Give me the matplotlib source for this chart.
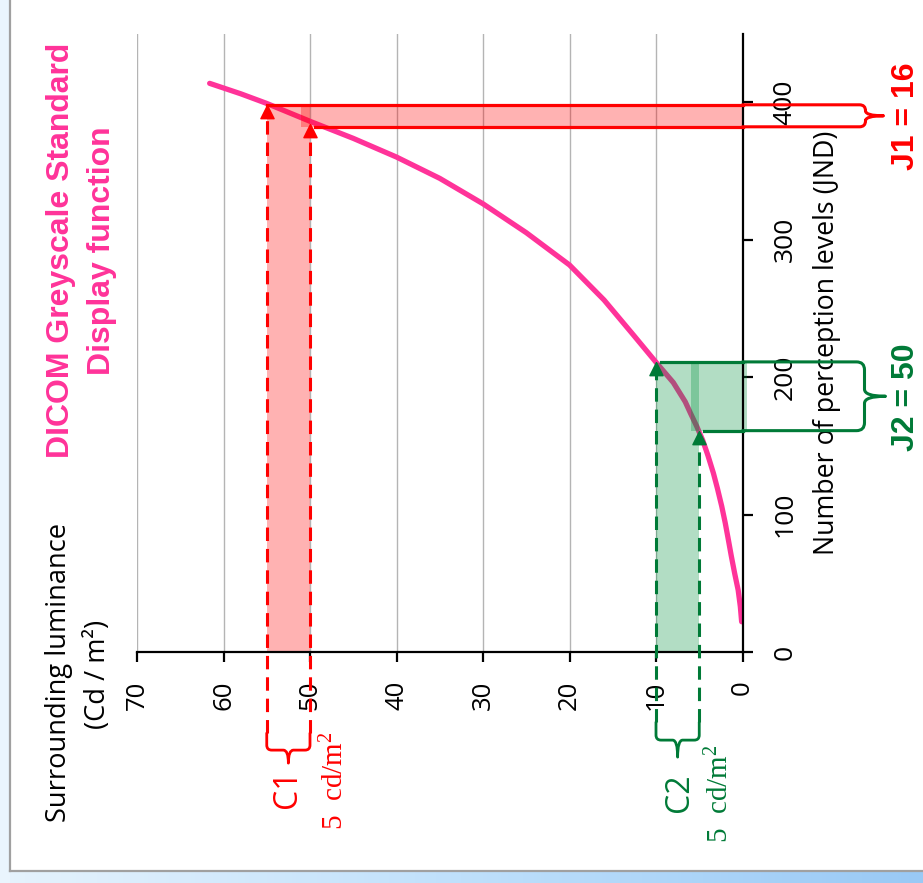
import matplotlib
matplotlib.use("Agg")
import matplotlib.pyplot as plt
import numpy as np
from matplotlib.path import Path
from matplotlib.patches import PathPatch, Rectangle
from matplotlib.transforms import IdentityTransform
from matplotlib.lines import Line2D
from matplotlib.colors import LinearSegmentedColormap

plt.rcParams["mathtext.fontset"] = "custom"
plt.rcParams["mathtext.rm"] = "Liberation Serif"
plt.rcParams["mathtext.it"] = "Liberation Serif:italic"
plt.rcParams["mathtext.bf"] = "Liberation Serif:bold"

# ---------------- data ----------------
luminance = [0.1, 0.25, 0.5, 0.9, 1.3, 1.63, 2.0, 2.4, 2.9, 3.36, 4.0, 4.6, 5.28, 6.0,
             6.62, 8.0, 9.9, 12.6, 16, 20, 25, 30, 35, 40, 45, 50, 55, 58, 61.6]
jnd = [22, 33, 45, 57, 70, 81.5, 94, 106, 119, 130, 143, 154, 164, 173.5,
       182, 196, 210, 230.5, 256, 281.5, 305, 326, 344.5, 360, 373.6, 386, 399,
       406, 413.6]

c1_lum = [50, 55]      # cd/m2
j1_jnd = [382, 398]    # JND
c2_lum = [5, 10]
j2_jnd = [161, 211]

lum_ticks = [0, 10, 20, 30, 40, 50, 60, 70]
jnd_ticks = [0, 100, 200, 300, 400]

# ---------------- style ----------------
W, H = 923, 883
PINK = "#FF3399"
RED = "#FF0000"
GREEN = "#007A37"
GREEN_FILL = "#00913E"
SANS = ["Open Sans", "DejaVu Sans"]
BOLD = ["Liberation Sans", "DejaVu Sans"]
SERIF = ["Liberation Serif", "DejaVu Serif"]

fig = plt.figure(figsize=(W / 100, H / 100), dpi=100)
fig.patch.set_facecolor("white")

def fx(px):
    return px / W

def fy(py):
    return 1 - py / H

# background frame
fig.patches.append(Rectangle((0, 0), fx(10), 1, transform=fig.transFigure,
                             facecolor="#EAF5FD", edgecolor="none", zorder=0))
gax = fig.add_axes([0, 0, 1, 11 / H])
grad = np.linspace(0, 1, 256).reshape(1, -1)
cmap = LinearSegmentedColormap.from_list("g", ["#E6F3FD", "#BFE0FB", "#99C9F5"])
gax.imshow(grad, aspect="auto", cmap=cmap, extent=[0, 1, 0, 1])
gax.set_axis_off()
fig.add_artist(Line2D([fx(10), fx(10)], [fy(871), 1], transform=fig.transFigure,
                      color="#A0A0A0", lw=1.6))
fig.add_artist(Line2D([fx(10), 1], [fy(871), fy(871)], transform=fig.transFigure,
                      color="#A0A0A0", lw=1.6))

# main axes (rotated chart: luminance horizontal, increasing leftwards)
x0, x1 = 137, 742.5
y0, y1 = 652, 34
ax = fig.add_axes([fx(x0), fy(y0), fx(x1) - fx(x0), fy(y1) - fy(y0)])
ax.patch.set_visible(False)
ax.set_xlim(70, 0)
ax.set_ylim(0, 449.5)

for s in ["left", "top"]:
    ax.spines[s].set_visible(False)
for s in ["bottom", "right"]:
    ax.spines[s].set_linewidth(1.6)
    ax.spines[s].set_color("black")
    ax.spines[s].set_zorder(4)

ax.set_xticks(lum_ticks)
ax.set_xticklabels([str(v) for v in lum_ticks])
ax.yaxis.tick_right()
ax.set_yticks(jnd_ticks)
ax.set_yticklabels([str(v) for v in jnd_ticks])
ax.tick_params(axis="x", direction="out", length=7.5, width=1.6, pad=13,
               labelsize=18.5, labelrotation=90)
ax.tick_params(axis="y", direction="out", length=7.5, width=1.6, pad=14,
               labelsize=19, labelrotation=90)
for t in ax.get_xticklabels() + ax.get_yticklabels():
    t.set_fontfamily(SANS)
for t in ax.get_yticklabels():
    t.set_va("center")
    t.set_ha("left")
ax.grid(axis="x", color="#B4B4B4", lw=1.0, zorder=0)
ax.grid(axis="y", visible=False)
ax.set_axisbelow(True)

# curve
ax.plot(luminance, jnd, color=PINK, lw=3.8, solid_capstyle="round",
        solid_joinstyle="round", zorder=2)

# fills
ax.add_patch(Rectangle((c1_lum[0], 0), c1_lum[1] - c1_lum[0], j1_jnd[1],
                       facecolor=RED, alpha=0.3, edgecolor="none", zorder=3))
ax.add_patch(Rectangle((0, j1_jnd[0]), c1_lum[0] + 1, j1_jnd[1] - j1_jnd[0],
                       facecolor=RED, alpha=0.3, edgecolor="none", zorder=3))
ax.add_patch(Rectangle((c2_lum[0], 0), c2_lum[1] - c2_lum[0], j2_jnd[1] - 1,
                       facecolor=GREEN_FILL, alpha=0.3, edgecolor="none", zorder=3))
ax.add_patch(Rectangle((-0.5, j2_jnd[0]), c2_lum[0] + 1.5, j2_jnd[1] - j2_jnd[0],
                       facecolor=GREEN_FILL, alpha=0.3, edgecolor="none", zorder=3,
                       clip_on=False))

# arrows (triangle with its tip at the data point)
tri = [(0, 0), (-0.5, -1), (0.5, -1), (0, 0)]
ARROW_H = 13 / 1.375  # arrow height in JND units

def dashed_arrow(lum, j, j_bottom, color):
    ax.plot([lum, lum], [j_bottom, j - ARROW_H], color=color, lw=2.2,
            dashes=(4.4, 2.6), clip_on=False, zorder=6)
    ax.plot([lum], [j], marker=tri, ms=19, color=color, mec=color,
            clip_on=False, zorder=6, lw=0)

dashed_arrow(c1_lum[1], j1_jnd[1], -59, RED)
dashed_arrow(c1_lum[0], j1_jnd[0] + 2, -59, RED)
dashed_arrow(c2_lum[1], j2_jnd[1], -51, GREEN)
dashed_arrow(c2_lum[0], j2_jnd[0], -51, GREEN)

# solid horizontal lines towards the JND braces
ax.plot([c1_lum[1], 0], [j1_jnd[1]] * 2, color=RED, lw=2.3, zorder=6, clip_on=False)
ax.plot([c1_lum[0] - 0.6, 0], [j1_jnd[0]] * 2, color=RED, lw=2.3, zorder=6, clip_on=False)
ax.plot([c2_lum[1] - 0.6, 0], [j2_jnd[1]] * 2, color=GREEN, lw=2.3, zorder=6, clip_on=False)
ax.plot([c2_lum[0] - 0.6, 0], [j2_jnd[0]] * 2, color=GREEN, lw=2.3, zorder=6, clip_on=False)


def brace(A, B, n, d1, d2, r, r2, color, lw=2.0):
    A = np.asarray(A, float)
    B = np.asarray(B, float)
    n = np.asarray(n, float)
    t = (B - A) / np.linalg.norm(B - A)
    M = (A + B) / 2
    verts = [A,
             A + n * (d1 - r),
             A + n * d1, A + n * d1 + t * r,
             M - t * r2 + n * d1,
             M + n * d1, M + n * d2,
             M + n * d1, M + t * r2 + n * d1,
             B + n * d1 - t * r,
             B + n * d1, B + n * (d1 - r),
             B]
    codes = [Path.MOVETO, Path.LINETO, Path.CURVE3, Path.CURVE3, Path.LINETO,
             Path.CURVE3, Path.CURVE3, Path.CURVE3, Path.CURVE3, Path.LINETO,
             Path.CURVE3, Path.CURVE3, Path.LINETO]
    p = PathPatch(Path(verts, codes), transform=IdentityTransform(),
                  facecolor="none", edgecolor=color, lw=lw, zorder=7,
                  capstyle="round", joinstyle="round")
    fig.add_artist(p)

td = ax.transData
brace(td.transform((0, j1_jnd[1])), td.transform((0, j1_jnd[0])), (1, 0),
      123, 141, 6, 5, RED, 2.2)
brace(td.transform((0, j2_jnd[1])), td.transform((0, j2_jnd[0])), (1, 0),
      122, 143, 8, 7, GREEN, 2.2)
brace(td.transform((c1_lum[1], -59)), td.transform((c1_lum[0], -59)), (0, -1),
      17, 30, 5, 5, RED, 2.0)
brace(td.transform((c2_lum[1], -51)), td.transform((c2_lum[0], -51)), (0, -1),
      18, 35, 5, 5, GREEN, 2.0)

# ---------------- texts ----------------
fig.text(fx(61), fy(250), "DICOM Greyscale Standard", rotation=90, ha="center",
         va="center", color=PINK, fontsize=23, fontweight="bold", family=BOLD)
fig.text(fx(102), fy(251), "Display function", rotation=90, ha="center",
         va="center", color=PINK, fontsize=23, fontweight="bold", family=BOLD)
fig.text(fx(59), fy(673), "Surrounding luminance", rotation=90, ha="center",
         va="center", color="black", fontsize=19.6, family=SANS)
fig.text(fx(98), fy(674), "(Cd / m\u00b2)", rotation=90, ha="center",
         va="center", color="black", fontsize=19.6, family=SANS)
fig.text(fx(827), fy(343), "Number of perception levels (JND)", rotation=90,
         ha="center", va="center", color="black", fontsize=19.3, family=SANS, zorder=2)

fig.text(fx(906), fy(116), f"J1 = {j1_jnd[1] - j1_jnd[0]}", rotation=90,
         ha="center", va="center", color=RED, fontsize=23, fontweight="bold", family=BOLD)
fig.text(fx(906), fy(397), f"J2 = {j2_jnd[1] - j2_jnd[0]}", rotation=90,
         ha="center", va="center", color=GREEN, fontsize=23, fontweight="bold", family=BOLD)

fig.text(fx(288), fy(789), "C1", rotation=90, ha="center", va="center",
         color=RED, fontsize=23, family=SANS)
fig.text(fx(335), fy(781), f"{c1_lum[1] - c1_lum[0]}  cd/m$^2$", rotation=90,
         ha="center", va="center", color=RED, fontsize=21, family=SERIF)
fig.text(fx(680), fy(793), "C2", rotation=90, ha="center", va="center",
         color=GREEN, fontsize=23, family=SANS)
fig.text(fx(720), fy(794), f"{c2_lum[1] - c2_lum[0]}  cd/m$^2$", rotation=90,
         ha="center", va="center", color=GREEN, fontsize=21, family=SERIF)

fig.savefig("out.png", dpi=100)
